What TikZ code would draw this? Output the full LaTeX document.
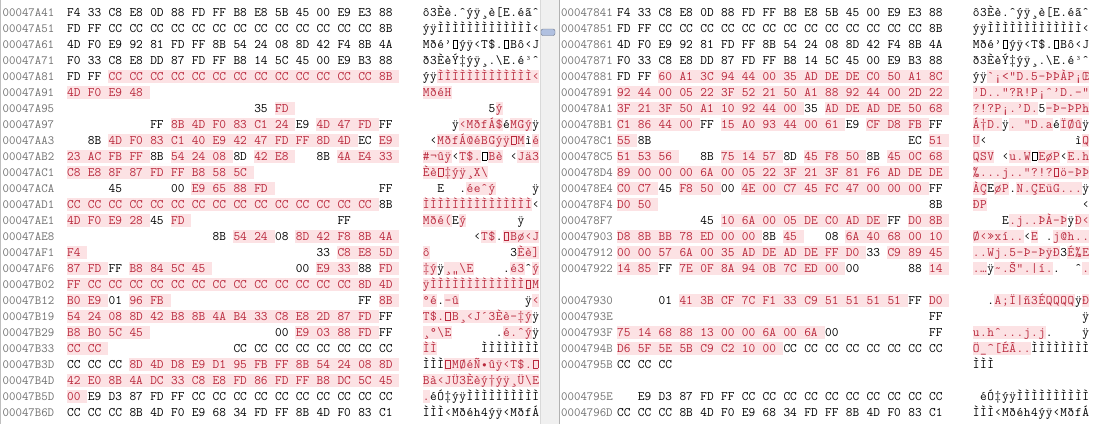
\documentclass[tikz,border=0pt]{standalone}
\definecolor{diffred}{RGB}{185,40,60}
\definecolor{diffbg}{RGB}{252,226,228}
\definecolor{addrgray}{RGB}{112,112,112}
\definecolor{panegray}{RGB}{240,240,240}
\definecolor{markblue}{RGB}{176,192,224}

% cp1252 glyphs for 80-9F
\newcommand\nochar{{\fboxsep=0pt\fboxrule=0.6pt\fbox{\rule{0pt}{7.5pt}\kern4pt}}}
\def\defcp#1#2{\expandafter\def\csname cp#1\endcsname{#2}}
\defcp{80}{\char"20AC\relax}\defcp{81}{\nochar}\defcp{82}{\char"201A\relax}
\defcp{83}{\char"0192\relax}\defcp{84}{\char"201E\relax}\defcp{85}{\char"2026\relax}
\defcp{86}{\char"2020\relax}\defcp{87}{\char"2021\relax}\defcp{88}{\char"02C6\relax}
\defcp{89}{\char"2030\relax}\defcp{8A}{\char"0160\relax}\defcp{8B}{\char"2039\relax}
\defcp{8C}{\char"0152\relax}\defcp{8D}{\nochar}\defcp{8E}{\char"017D\relax}
\defcp{8F}{\nochar}\defcp{90}{\nochar}\defcp{91}{\char"2018\relax}
\defcp{92}{\char"2019\relax}\defcp{93}{\char"201C\relax}\defcp{94}{\char"201D\relax}
\defcp{95}{\char"2022\relax}\defcp{96}{\char"2013\relax}\defcp{97}{\char"2014\relax}
\defcp{98}{\char"02DC\relax}\defcp{99}{\char"2122\relax}\defcp{9A}{\char"0161\relax}
\defcp{9B}{\char"203A\relax}\defcp{9C}{\char"0153\relax}\defcp{9D}{\nochar}
\defcp{9E}{\char"017E\relax}\defcp{9F}{\char"0178\relax}

\newcommand\ascchar[1]{%
  \ifnum"#1<"20 .\else
  \ifnum"#1<"7F \char"#1\relax\else
  \ifnum"#1<"A0 \csname cp#1\endcsname\else
  \ifnum"#1="A0 \else
  \ifnum"#1="AD -\else
  \char"#1\relax
  \fi\fi\fi\fi\fi}

\newcommand\setpane[3]{\def\pane{#1}\def\addrx{#2}\def\panex{#3}}

% row: index, address, cells (r = changed, b = same, e = gap)
\newcommand\hexrow[3]{%
  \pgfmathsetmacro\rowy{12+16*#1}
  \node[addr] (\pane-a#1) at (\addrx,\rowy+4) {#2};
  \foreach \cl/\hx [count=\c from 0] in {#3}{
    \if r\cl
      \fill[diffbg] (66.5+\panex+20.8*\c,\rowy-6.5) rectangle ++(20.8,13);
      \fill[diffbg] (422.5+\panex+7.3*\c,\rowy-6.5) rectangle ++(7.3,13);
    \fi}
  \foreach \cl/\hx [count=\c from 0] in {#3}{
    \if e\cl\else
      \if r\cl\def\tc{diffred}\else\def\tc{black}\fi
      \node[hexbyte,text=\tc] (\pane-h#1-\c) at (66.9+\panex+20.8*\c,\rowy+4) {\hx};
      \node[ascch,text=\tc] (\pane-c#1-\c) at (426.15+\panex+7.3*\c,\rowy+4) {\ascchar{\hx}};
    \fi}
}

\begin{document}
\begin{tikzpicture}[x=1pt,y=-1pt,
    addr/.style={font=\ttfamily\fontsize{12.5}{16}\selectfont, text=addrgray, inner sep=0pt, anchor=base west},
    hexbyte/.style={font=\ttfamily\fontsize{13}{16}\selectfont, inner sep=0pt, anchor=base west},
    ascch/.style={font=\ttfamily\fontsize{13}{16}\selectfont, inner sep=0pt, anchor=base}]
  \fill[white] (0,0) rectangle (1104,424);
  \useasboundingbox (0,0) rectangle (1104,424);

  \fill[panegray] (540,0) rectangle (560,424);
  \draw[gray!30] (540.5,0) -- (540.5,424);
  \draw[gray!60] (559.5,0) -- (559.5,424);
  \draw[gray!50] (0.5,0) -- (0.5,424);
  \draw[markblue!60!black, fill=markblue, rounded corners=2pt] (541,29) rectangle (555,35.5);

  % left file
  \setpane{L}{2.5}{0}
  \hexrow{0}{00047A41}{b/F4,b/33,b/C8,b/E8,b/0D,b/88,b/FD,b/FF,b/B8,b/E8,b/5B,b/45,b/00,b/E9,b/E3,b/88}
  \hexrow{1}{00047A51}{b/FD,b/FF,b/CC,b/CC,b/CC,b/CC,b/CC,b/CC,b/CC,b/CC,b/CC,b/CC,b/CC,b/CC,b/CC,b/8B}
  \hexrow{2}{00047A61}{b/4D,b/F0,b/E9,b/92,b/81,b/FD,b/FF,b/8B,b/54,b/24,b/08,b/8D,b/42,b/F4,b/8B,b/4A}
  \hexrow{3}{00047A71}{b/F0,b/33,b/C8,b/E8,b/DD,b/87,b/FD,b/FF,b/B8,b/14,b/5C,b/45,b/00,b/E9,b/B3,b/88}
  \hexrow{4}{00047A81}{b/FD,b/FF,r/CC,r/CC,r/CC,r/CC,r/CC,r/CC,r/CC,r/CC,r/CC,r/CC,r/CC,r/CC,r/CC,r/8B}
  \hexrow{5}{00047A91}{r/4D,r/F0,r/E9,r/48}
  \hexrow{6}{00047A95}{e/-,e/-,e/-,e/-,e/-,e/-,e/-,e/-,e/-,b/35,r/FD}
  \hexrow{7}{00047A97}{e/-,e/-,e/-,e/-,b/FF,r/8B,r/4D,r/F0,r/83,r/C1,r/24,b/E9,r/4D,r/47,r/FD,b/FF}
  \hexrow{8}{00047AA3}{e/-,b/8B,r/4D,r/F0,r/83,r/C1,r/40,r/E9,r/42,r/47,r/FD,r/FF,r/8D,r/4D,b/EC,r/E9}
  \hexrow{9}{00047AB2}{r/23,r/AC,r/FB,r/FF,b/8B,r/54,r/24,r/08,b/8D,r/42,r/E8,e/-,b/8B,r/4A,r/E4,r/33}
  \hexrow{10}{00047AC1}{r/C8,r/E8,r/8F,r/87,r/FD,r/FF,r/B8,r/58,r/5C}
  \hexrow{11}{00047ACA}{e/-,e/-,b/45,e/-,e/-,b/00,r/E9,r/65,r/88,r/FD,e/-,e/-,e/-,e/-,e/-,b/FF}
  \hexrow{12}{00047AD1}{r/CC,r/CC,r/CC,r/CC,r/CC,r/CC,r/CC,r/CC,r/CC,r/CC,r/CC,r/CC,r/CC,r/CC,r/CC,b/8B}
  \hexrow{13}{00047AE1}{r/4D,r/F0,r/E9,r/28,b/45,r/FD,e/-,e/-,e/-,e/-,e/-,e/-,e/-,b/FF}
  \hexrow{14}{00047AE8}{e/-,e/-,e/-,e/-,e/-,e/-,e/-,b/8B,r/54,r/24,b/08,r/8D,r/42,r/F8,r/8B,r/4A}
  \hexrow{15}{00047AF1}{r/F4,e/-,e/-,e/-,e/-,e/-,e/-,e/-,e/-,e/-,e/-,e/-,b/33,r/C8,r/E8,r/5D}
  \hexrow{16}{00047AF6}{r/87,r/FD,b/FF,r/B8,r/84,r/5C,r/45,e/-,e/-,e/-,e/-,b/00,r/E9,r/33,b/88,r/FD}
  \hexrow{17}{00047B02}{r/FF,r/CC,r/CC,r/CC,r/CC,r/CC,r/CC,r/CC,r/CC,r/CC,r/CC,r/CC,r/CC,r/CC,r/8D,r/4D}
  \hexrow{18}{00047B12}{r/B0,r/E9,b/01,r/96,r/FB,e/-,e/-,e/-,e/-,e/-,e/-,e/-,e/-,e/-,b/FF,r/8B}
  \hexrow{19}{00047B19}{r/54,r/24,r/08,r/8D,r/42,r/B8,r/8B,r/4A,r/B4,r/33,r/C8,r/E8,r/2D,r/87,r/FD,b/FF}
  \hexrow{20}{00047B29}{r/B8,r/B0,r/5C,r/45,e/-,e/-,e/-,e/-,e/-,e/-,b/00,r/E9,r/03,r/88,r/FD,b/FF}
  \hexrow{21}{00047B33}{r/CC,r/CC,e/-,e/-,e/-,e/-,e/-,e/-,b/CC,b/CC,b/CC,b/CC,b/CC,b/CC,b/CC,b/CC}
  \hexrow{22}{00047B3D}{b/CC,b/CC,b/CC,r/8D,r/4D,r/D8,r/E9,r/D1,r/95,r/FB,r/FF,r/8B,r/54,r/24,r/08,r/8D}
  \hexrow{23}{00047B4D}{r/42,r/E0,r/8B,r/4A,r/DC,r/33,r/C8,r/E8,r/FD,r/86,r/FD,r/FF,r/B8,r/DC,r/5C,r/45}
  \hexrow{24}{00047B5D}{r/00,b/E9,b/D3,b/87,b/FD,b/FF,b/CC,b/CC,b/CC,b/CC,b/CC,b/CC,b/CC,b/CC,b/CC,b/CC}
  \hexrow{25}{00047B6D}{b/CC,b/CC,b/CC,b/8B,b/4D,b/F0,b/E9,b/68,b/34,b/FD,b/FF,b/8B,b/4D,b/F0,b/83,b/C1}

  % right file
  \setpane{R}{561}{550}
  \hexrow{0}{00047841}{b/F4,b/33,b/C8,b/E8,b/0D,b/88,b/FD,b/FF,b/B8,b/E8,b/5B,b/45,b/00,b/E9,b/E3,b/88}
  \hexrow{1}{00047851}{b/FD,b/FF,b/CC,b/CC,b/CC,b/CC,b/CC,b/CC,b/CC,b/CC,b/CC,b/CC,b/CC,b/CC,b/CC,b/8B}
  \hexrow{2}{00047861}{b/4D,b/F0,b/E9,b/92,b/81,b/FD,b/FF,b/8B,b/54,b/24,b/08,b/8D,b/42,b/F4,b/8B,b/4A}
  \hexrow{3}{00047871}{b/F0,b/33,b/C8,b/E8,b/DD,b/87,b/FD,b/FF,b/B8,b/14,b/5C,b/45,b/00,b/E9,b/B3,b/88}
  \hexrow{4}{00047881}{b/FD,b/FF,r/60,r/A1,r/3C,r/94,r/44,r/00,r/35,r/AD,r/DE,r/DE,r/C0,r/50,r/A1,r/8C}
  \hexrow{5}{00047891}{r/92,r/44,r/00,r/05,r/22,r/3F,r/52,r/21,r/50,r/A1,r/88,r/92,r/44,r/00,r/2D,r/22}
  \hexrow{6}{000478A1}{r/3F,r/21,r/3F,r/50,r/A1,r/10,r/92,r/44,r/00,b/35,r/AD,r/DE,r/AD,r/DE,r/50,r/68}
  \hexrow{7}{000478B1}{r/C1,r/86,r/44,r/00,b/FF,r/15,r/A0,r/93,r/44,r/00,r/61,b/E9,r/CF,r/D8,r/FB,b/FF}
  \hexrow{8}{000478C1}{r/55,b/8B,e/-,e/-,e/-,e/-,e/-,e/-,e/-,e/-,e/-,e/-,e/-,e/-,b/EC,r/51}
  \hexrow{9}{000478C5}{r/51,r/53,r/56,e/-,b/8B,r/75,r/14,r/57,b/8D,r/45,r/F8,r/50,b/8B,r/45,r/0C,r/68}
  \hexrow{10}{000478D4}{r/89,r/00,r/00,r/00,r/6A,r/00,r/05,r/22,r/3F,r/21,r/3F,r/81,r/F6,r/AD,r/DE,r/DE}
  \hexrow{11}{000478E4}{r/C0,r/C7,b/45,r/F8,r/50,b/00,r/4E,r/00,r/C7,r/45,r/FC,r/47,r/00,r/00,r/00,b/FF}
  \hexrow{12}{000478F4}{r/D0,r/50,e/-,e/-,e/-,e/-,e/-,e/-,e/-,e/-,e/-,e/-,e/-,e/-,e/-,b/8B}
  \hexrow{13}{000478F7}{e/-,e/-,e/-,e/-,b/45,r/10,r/6A,r/00,r/05,r/DE,r/C0,r/AD,r/DE,b/FF,r/D0,r/8B}
  \hexrow{14}{00047903}{r/D8,r/8B,r/BB,r/78,r/ED,r/00,r/00,b/8B,r/45,e/-,b/08,r/6A,r/40,r/68,r/00,r/10}
  \hexrow{15}{00047912}{r/00,r/00,r/57,r/6A,r/00,r/35,r/AD,r/DE,r/AD,r/DE,r/FF,r/D0,b/33,r/C9,r/89,r/45}
  \hexrow{16}{00047922}{r/14,r/85,b/FF,r/7E,r/0F,r/8A,r/94,r/0B,r/7C,r/ED,r/00,b/00,e/-,e/-,b/88,r/14}
  \hexrow{18}{00047930}{e/-,e/-,b/01,r/41,r/3B,r/CF,r/7C,r/F1,r/33,r/C9,r/51,r/51,r/51,r/51,b/FF,r/D0}
  \hexrow{19}{0004793E}{e/-,e/-,e/-,e/-,e/-,e/-,e/-,e/-,e/-,e/-,e/-,e/-,e/-,e/-,e/-,b/FF}
  \hexrow{20}{0004793F}{r/75,r/14,r/68,r/88,r/13,r/00,r/00,r/6A,r/00,r/6A,b/00,e/-,e/-,e/-,e/-,b/FF}
  \hexrow{21}{0004794B}{r/D6,r/5F,r/5E,r/5B,r/C9,r/C2,r/10,r/00,b/CC,b/CC,b/CC,b/CC,b/CC,b/CC,b/CC,b/CC}
  \hexrow{22}{0004795B}{b/CC,b/CC,b/CC}
  \hexrow{24}{0004795E}{e/-,b/E9,b/D3,b/87,b/FD,b/FF,b/CC,b/CC,b/CC,b/CC,b/CC,b/CC,b/CC,b/CC,b/CC,b/CC}
  \hexrow{25}{0004796D}{b/CC,b/CC,b/CC,b/8B,b/4D,b/F0,b/E9,b/68,b/34,b/FD,b/FF,b/8B,b/4D,b/F0,b/83,b/C1}
\end{tikzpicture}
\end{document}
